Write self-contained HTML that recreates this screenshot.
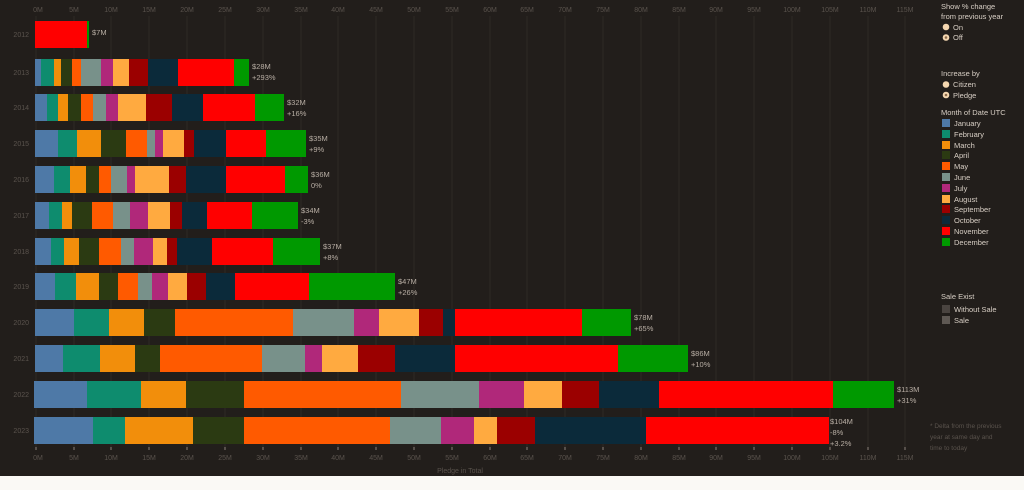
<!DOCTYPE html>
<html><head><meta charset="utf-8"><style>
body{margin:0;background:#fff;}
svg{display:block;font-family:"Liberation Sans",sans-serif;}
.t{fill:#5a534d;font-size:7px;text-anchor:middle}
.y{fill:#5a534d;font-size:7px;text-anchor:end}
.v{fill:#b8aea4;font-size:7.5px}
.l{fill:#d8cfc5;font-size:7.5px}
.a{fill:#0e8c6e}.b{fill:#4e79a7}.c{fill:#f28e0b}.d{fill:#2b3a12}.e{fill:#ff5a00}.f{fill:#78918a}.g{fill:#b0287a}.h{fill:#ffaa40}.i{fill:#9b0000}.j{fill:#0b2a3a}.k{fill:#ff0000}.m{fill:#009900}
</style></head><body>
<svg width="1024" height="490" viewBox="0 0 1024 490">
<rect width="1024" height="476" fill="#221e1b"/>
<rect y="476" width="1024" height="14" fill="#faf9f5"/>
<g stroke="#2e2925" stroke-width="1">
<line x1="36" y1="16" x2="36" y2="447"/><line x1="74" y1="16" x2="74" y2="447"/><line x1="111" y1="16" x2="111" y2="447"/><line x1="149" y1="16" x2="149" y2="447"/><line x1="187" y1="16" x2="187" y2="447"/><line x1="225" y1="16" x2="225" y2="447"/><line x1="263" y1="16" x2="263" y2="447"/><line x1="301" y1="16" x2="301" y2="447"/><line x1="338" y1="16" x2="338" y2="447"/><line x1="376" y1="16" x2="376" y2="447"/><line x1="414" y1="16" x2="414" y2="447"/><line x1="452" y1="16" x2="452" y2="447"/><line x1="490" y1="16" x2="490" y2="447"/><line x1="527" y1="16" x2="527" y2="447"/><line x1="565" y1="16" x2="565" y2="447"/><line x1="603" y1="16" x2="603" y2="447"/><line x1="641" y1="16" x2="641" y2="447"/><line x1="679" y1="16" x2="679" y2="447"/><line x1="716" y1="16" x2="716" y2="447"/><line x1="754" y1="16" x2="754" y2="447"/><line x1="792" y1="16" x2="792" y2="447"/><line x1="830" y1="16" x2="830" y2="447"/><line x1="868" y1="16" x2="868" y2="447"/><line x1="905" y1="16" x2="905" y2="447"/>
</g>
<g class="t">
<text x="38" y="12">0M</text><text x="74" y="12">5M</text><text x="111" y="12">10M</text><text x="149" y="12">15M</text><text x="187" y="12">20M</text><text x="225" y="12">25M</text><text x="263" y="12">30M</text><text x="301" y="12">35M</text><text x="338" y="12">40M</text><text x="376" y="12">45M</text><text x="414" y="12">50M</text><text x="452" y="12">55M</text><text x="490" y="12">60M</text><text x="527" y="12">65M</text><text x="565" y="12">70M</text><text x="603" y="12">75M</text><text x="641" y="12">80M</text><text x="679" y="12">85M</text><text x="716" y="12">90M</text><text x="754" y="12">95M</text><text x="792" y="12">100M</text><text x="830" y="12">105M</text><text x="868" y="12">110M</text><text x="905" y="12">115M</text>
<text x="38" y="460">0M</text><text x="74" y="460">5M</text><text x="111" y="460">10M</text><text x="149" y="460">15M</text><text x="187" y="460">20M</text><text x="225" y="460">25M</text><text x="263" y="460">30M</text><text x="301" y="460">35M</text><text x="338" y="460">40M</text><text x="376" y="460">45M</text><text x="414" y="460">50M</text><text x="452" y="460">55M</text><text x="490" y="460">60M</text><text x="527" y="460">65M</text><text x="565" y="460">70M</text><text x="603" y="460">75M</text><text x="641" y="460">80M</text><text x="679" y="460">85M</text><text x="716" y="460">90M</text><text x="754" y="460">95M</text><text x="792" y="460">100M</text><text x="830" y="460">105M</text><text x="868" y="460">110M</text><text x="905" y="460">115M</text>
<text x="460" y="473">Pledge in Total</text>
</g>
<g class="y">
<text x="29" y="37">2012</text><text x="29" y="75">2013</text><text x="29" y="110">2014</text><text x="29" y="146">2015</text><text x="29" y="182">2016</text><text x="29" y="218">2017</text><text x="29" y="254">2018</text><text x="29" y="289">2019</text><text x="29" y="325">2020</text><text x="29" y="361">2021</text><text x="29" y="397">2022</text><text x="29" y="433">2023</text>
</g>
<!-- 2012 -->
<rect class="k" x="35" y="21" width="52" height="27"/><rect class="m" x="87" y="21" width="2" height="27"/>
<!-- 2013 -->
<g transform="translate(0,59)">
<rect class="b" x="35" width="6" height="27"/><rect class="a" x="41" width="13" height="27"/><rect class="c" x="54" width="7" height="27"/><rect class="d" x="61" width="11" height="27"/><rect class="e" x="72" width="9" height="27"/><rect class="f" x="81" width="20" height="27"/><rect class="g" x="101" width="12" height="27"/><rect class="h" x="113" width="16" height="27"/><rect class="i" x="129" width="19" height="27"/><rect class="j" x="148" width="30" height="27"/><rect class="k" x="178" width="56" height="27"/><rect class="m" x="234" width="15" height="27"/></g>
<!-- 2014 -->
<g transform="translate(0,94)">
<rect class="b" x="35" width="12" height="27"/><rect class="a" x="47" width="11" height="27"/><rect class="c" x="58" width="10" height="27"/><rect class="d" x="68" width="13" height="27"/><rect class="e" x="81" width="12" height="27"/><rect class="f" x="93" width="13" height="27"/><rect class="g" x="106" width="12" height="27"/><rect class="h" x="118" width="28" height="27"/><rect class="i" x="146" width="26" height="27"/><rect class="j" x="172" width="31" height="27"/><rect class="k" x="203" width="52" height="27"/><rect class="m" x="255" width="29" height="27"/></g>
<!-- 2015 -->
<g transform="translate(0,130)">
<rect class="b" x="35" width="23" height="27"/><rect class="a" x="58" width="19" height="27"/><rect class="c" x="77" width="24" height="27"/><rect class="d" x="101" width="25" height="27"/><rect class="e" x="126" width="21" height="27"/><rect class="f" x="147" width="8" height="27"/><rect class="g" x="155" width="8" height="27"/><rect class="h" x="163" width="21" height="27"/><rect class="i" x="184" width="10" height="27"/><rect class="j" x="194" width="32" height="27"/><rect class="k" x="226" width="40" height="27"/><rect class="m" x="266" width="40" height="27"/></g>
<!-- 2016 -->
<g transform="translate(0,166)">
<rect class="b" x="35" width="19" height="27"/><rect class="a" x="54" width="16" height="27"/><rect class="c" x="70" width="16" height="27"/><rect class="d" x="86" width="13" height="27"/><rect class="e" x="99" width="12" height="27"/><rect class="f" x="111" width="16" height="27"/><rect class="g" x="127" width="8" height="27"/><rect class="h" x="135" width="34" height="27"/><rect class="i" x="169" width="17" height="27"/><rect class="j" x="186" width="40" height="27"/><rect class="k" x="226" width="59" height="27"/><rect class="m" x="285" width="23" height="27"/></g>
<!-- 2017 -->
<g transform="translate(0,202)">
<rect class="b" x="35" width="14" height="27"/><rect class="a" x="49" width="13" height="27"/><rect class="c" x="62" width="10" height="27"/><rect class="d" x="72" width="20" height="27"/><rect class="e" x="92" width="21" height="27"/><rect class="f" x="113" width="17" height="27"/><rect class="g" x="130" width="18" height="27"/><rect class="h" x="148" width="22" height="27"/><rect class="i" x="170" width="12" height="27"/><rect class="j" x="182" width="25" height="27"/><rect class="k" x="207" width="45" height="27"/><rect class="m" x="252" width="46" height="27"/></g>
<!-- 2018 -->
<g transform="translate(0,238)">
<rect class="b" x="35" width="16" height="27"/><rect class="a" x="51" width="13" height="27"/><rect class="c" x="64" width="15" height="27"/><rect class="d" x="79" width="20" height="27"/><rect class="e" x="99" width="22" height="27"/><rect class="f" x="121" width="13" height="27"/><rect class="g" x="134" width="19" height="27"/><rect class="h" x="153" width="14" height="27"/><rect class="i" x="167" width="10" height="27"/><rect class="j" x="177" width="35" height="27"/><rect class="k" x="212" width="61" height="27"/><rect class="m" x="273" width="47" height="27"/></g>
<!-- 2019 -->
<g transform="translate(0,273)">
<rect class="b" x="35" width="20" height="27"/><rect class="a" x="55" width="21" height="27"/><rect class="c" x="76" width="23" height="27"/><rect class="d" x="99" width="19" height="27"/><rect class="e" x="118" width="20" height="27"/><rect class="f" x="138" width="14" height="27"/><rect class="g" x="152" width="16" height="27"/><rect class="h" x="168" width="19" height="27"/><rect class="i" x="187" width="19" height="27"/><rect class="j" x="206" width="29" height="27"/><rect class="k" x="235" width="74" height="27"/><rect class="m" x="309" width="86" height="27"/></g>
<!-- 2020 -->
<g transform="translate(0,309)">
<rect class="b" x="35" width="39" height="27"/><rect class="a" x="74" width="35" height="27"/><rect class="c" x="109" width="35" height="27"/><rect class="d" x="144" width="31" height="27"/><rect class="e" x="175" width="118" height="27"/><rect class="f" x="293" width="61" height="27"/><rect class="g" x="354" width="25" height="27"/><rect class="h" x="379" width="40" height="27"/><rect class="i" x="419" width="24" height="27"/><rect class="j" x="443" width="12" height="27"/><rect class="k" x="455" width="127" height="27"/><rect class="m" x="582" width="49" height="27"/></g>
<!-- 2021 -->
<g transform="translate(0,345)">
<rect class="b" x="35" width="28" height="27"/><rect class="a" x="63" width="37" height="27"/><rect class="c" x="100" width="35" height="27"/><rect class="d" x="135" width="25" height="27"/><rect class="e" x="160" width="102" height="27"/><rect class="f" x="262" width="43" height="27"/><rect class="g" x="305" width="17" height="27"/><rect class="h" x="322" width="36" height="27"/><rect class="i" x="358" width="37" height="27"/><rect class="j" x="395" width="60" height="27"/><rect class="k" x="455" width="163" height="27"/><rect class="m" x="618" width="70" height="27"/></g>
<!-- 2022 -->
<g transform="translate(0,381)">
<rect class="b" x="34" width="53" height="27"/><rect class="a" x="87" width="54" height="27"/><rect class="c" x="141" width="45" height="27"/><rect class="d" x="186" width="58" height="27"/><rect class="e" x="244" width="157" height="27"/><rect class="f" x="401" width="78" height="27"/><rect class="g" x="479" width="45" height="27"/><rect class="h" x="524" width="38" height="27"/><rect class="i" x="562" width="37" height="27"/><rect class="j" x="599" width="60" height="27"/><rect class="k" x="659" width="174" height="27"/><rect class="m" x="833" width="61" height="27"/></g>
<!-- 2023 -->
<g transform="translate(0,417)">
<rect class="b" x="34" width="59" height="27"/><rect class="a" x="93" width="32" height="27"/><rect class="c" x="125" width="68" height="27"/><rect class="d" x="193" width="51" height="27"/><rect class="e" x="244" width="146" height="27"/><rect class="f" x="390" width="51" height="27"/><rect class="g" x="441" width="33" height="27"/><rect class="h" x="474" width="23" height="27"/><rect class="i" x="497" width="38" height="27"/><rect class="j" x="535" width="111" height="27"/><rect class="k" x="646" width="183" height="27"/></g>
<g class="v">
<text x="92" y="35">$7M</text>
<text x="252" y="69">$28M</text><text x="252" y="80">+293%</text>
<text x="287" y="105">$32M</text><text x="287" y="116">+16%</text>
<text x="309" y="141">$35M</text><text x="309" y="152">+9%</text>
<text x="311" y="177">$36M</text><text x="311" y="188">0%</text>
<text x="301" y="213">$34M</text><text x="301" y="224">-3%</text>
<text x="323" y="249">$37M</text><text x="323" y="260">+8%</text>
<text x="398" y="284">$47M</text><text x="398" y="295">+26%</text>
<text x="634" y="320">$78M</text><text x="634" y="331">+65%</text>
<text x="691" y="356">$86M</text><text x="691" y="367">+10%</text>
<text x="897" y="392">$113M</text><text x="897" y="403">+31%</text>
<text x="830" y="424">$104M</text><text x="830" y="435">-8%</text><text x="830" y="446">+3.2%</text>
</g>
<g stroke="#8a8079" stroke-width="1">
<line x1="36" y1="447" x2="36" y2="450"/><line x1="74" y1="447" x2="74" y2="450"/><line x1="111" y1="447" x2="111" y2="450"/><line x1="149" y1="447" x2="149" y2="450"/><line x1="187" y1="447" x2="187" y2="450"/><line x1="225" y1="447" x2="225" y2="450"/><line x1="263" y1="447" x2="263" y2="450"/><line x1="301" y1="447" x2="301" y2="450"/><line x1="338" y1="447" x2="338" y2="450"/><line x1="376" y1="447" x2="376" y2="450"/><line x1="414" y1="447" x2="414" y2="450"/><line x1="452" y1="447" x2="452" y2="450"/><line x1="490" y1="447" x2="490" y2="450"/><line x1="527" y1="447" x2="527" y2="450"/><line x1="565" y1="447" x2="565" y2="450"/><line x1="603" y1="447" x2="603" y2="450"/><line x1="641" y1="447" x2="641" y2="450"/><line x1="679" y1="447" x2="679" y2="450"/><line x1="716" y1="447" x2="716" y2="450"/><line x1="754" y1="447" x2="754" y2="450"/><line x1="792" y1="447" x2="792" y2="450"/><line x1="830" y1="447" x2="830" y2="450"/><line x1="868" y1="447" x2="868" y2="450"/><line x1="905" y1="447" x2="905" y2="450"/>
</g>
<!-- legend -->
<g class="l">
<text x="941" y="9">Show % change</text><text x="941" y="19">from previous year</text>
<circle cx="946" cy="27" r="3.3" fill="#f5d7b0"/><text x="953" y="30">On</text>
<circle cx="946" cy="37.5" r="3.3" fill="#f5d7b0"/><circle cx="946" cy="37.5" r="1.3" fill="#8a6a4a"/><text x="953" y="40">Off</text>
<text x="941" y="76">Increase by</text>
<circle cx="946" cy="84.5" r="3.3" fill="#f5d7b0"/><text x="953" y="87">Citizen</text>
<circle cx="946" cy="95" r="3.3" fill="#f5d7b0"/><circle cx="946" cy="95" r="1.3" fill="#8a6a4a"/><text x="953" y="98">Pledge</text>
<text x="941" y="115">Month of Date UTC</text>
<rect class="b" x="942" y="119" width="8" height="8"/><text x="954" y="126">January</text>
<rect class="a" x="942" y="130" width="8" height="8"/><text x="954" y="137">February</text>
<rect class="c" x="942" y="141" width="8" height="8"/><text x="954" y="148">March</text>
<rect class="d" x="942" y="151" width="8" height="8"/><text x="954" y="158">April</text>
<rect class="e" x="942" y="162" width="8" height="8"/><text x="954" y="169">May</text>
<rect class="f" x="942" y="173" width="8" height="8"/><text x="954" y="180">June</text>
<rect class="g" x="942" y="184" width="8" height="8"/><text x="954" y="191">July</text>
<rect class="h" x="942" y="195" width="8" height="8"/><text x="954" y="202">August</text>
<rect class="i" x="942" y="205" width="8" height="8"/><text x="954" y="212">September</text>
<rect class="j" x="942" y="216" width="8" height="8"/><text x="954" y="223">October</text>
<rect class="k" x="942" y="227" width="8" height="8"/><text x="954" y="234">November</text>
<rect class="m" x="942" y="238" width="8" height="8"/><text x="954" y="245">December</text>
<text x="941" y="299">Sale Exist</text>
<rect x="942" y="305" width="8" height="8" fill="#4a4440"/><text x="954" y="312">Without Sale</text>
<rect x="942" y="316" width="8" height="8" fill="#5e5853"/><text x="954" y="323">Sale</text>
</g>
<g fill="#5a534d" font-size="6.5">
<text x="930" y="428">* Delta from the previous</text><text x="930" y="439">year at same day and</text><text x="930" y="450">time to today</text>
</g>
</svg>
</body></html>
